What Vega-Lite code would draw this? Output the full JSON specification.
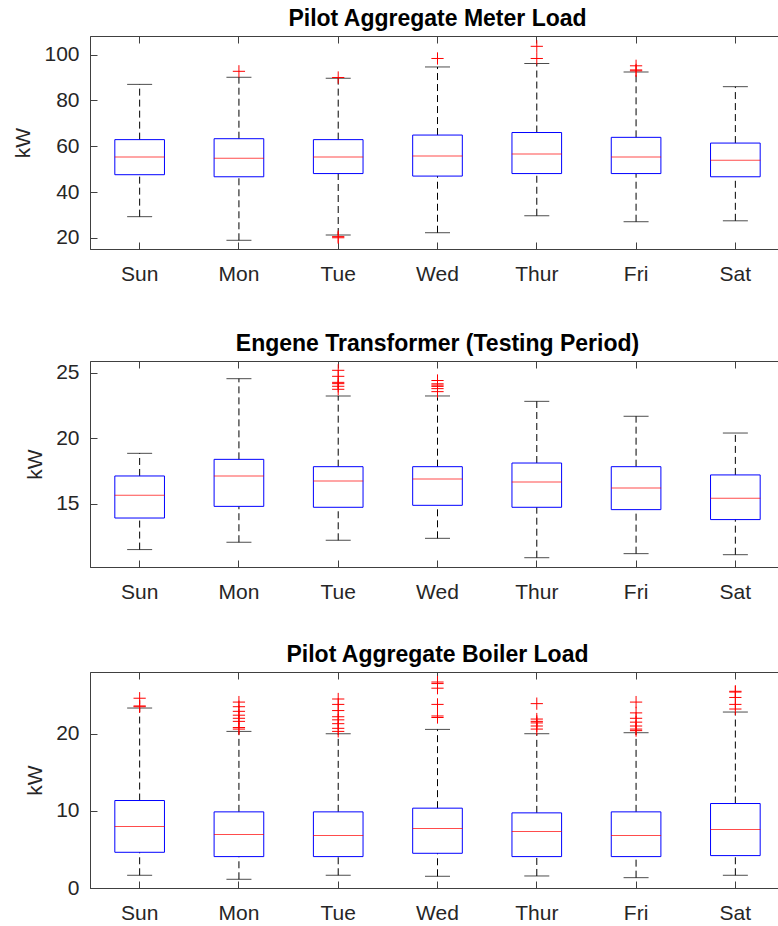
{
  "$schema": "https://vega.github.io/schema/vega-lite/v6.json",
  "background": "white",
  "padding": {"left": 12, "top": 7, "right": 0, "bottom": 0},
  "datasets": {
    "boxes": [
      {"panel": "meter", "day": "Sun", "lower": 29.3, "q1": 47.6, "median": 55.3, "q3": 62.9, "upper": 87.0},
      {"panel": "meter", "day": "Mon", "lower": 19.0, "q1": 46.7, "median": 54.8, "q3": 63.3, "upper": 90.1},
      {"panel": "meter", "day": "Tue", "lower": 21.3, "q1": 48.1, "median": 55.3, "q3": 62.9, "upper": 89.7},
      {"panel": "meter", "day": "Wed", "lower": 22.3, "q1": 47.0, "median": 55.8, "q3": 64.9, "upper": 94.6},
      {"panel": "meter", "day": "Thur", "lower": 29.7, "q1": 48.1, "median": 56.6, "q3": 66.0, "upper": 96.1},
      {"panel": "meter", "day": "Fri", "lower": 27.1, "q1": 48.1, "median": 55.3, "q3": 63.9, "upper": 92.4},
      {"panel": "meter", "day": "Sat", "lower": 27.5, "q1": 46.7, "median": 53.9, "q3": 61.4, "upper": 86.0},
      {"panel": "trans", "day": "Sun", "lower": 11.49, "q1": 13.90, "median": 15.63, "q3": 17.11, "upper": 18.84},
      {"panel": "trans", "day": "Mon", "lower": 12.05, "q1": 14.79, "median": 17.11, "q3": 18.38, "upper": 24.54},
      {"panel": "trans", "day": "Tue", "lower": 12.20, "q1": 14.72, "median": 16.73, "q3": 17.82, "upper": 23.22},
      {"panel": "trans", "day": "Wed", "lower": 12.35, "q1": 14.87, "median": 16.88, "q3": 17.82, "upper": 23.22},
      {"panel": "trans", "day": "Thur", "lower": 10.87, "q1": 14.72, "median": 16.65, "q3": 18.10, "upper": 22.81},
      {"panel": "trans", "day": "Fri", "lower": 11.18, "q1": 14.54, "median": 16.19, "q3": 17.82, "upper": 21.67},
      {"panel": "trans", "day": "Sat", "lower": 11.10, "q1": 13.78, "median": 15.41, "q3": 17.19, "upper": 20.39},
      {"panel": "boiler", "day": "Sun", "lower": 1.65, "q1": 4.63, "median": 7.97, "q3": 11.34, "upper": 23.33},
      {"panel": "boiler", "day": "Mon", "lower": 1.13, "q1": 4.07, "median": 6.93, "q3": 9.87, "upper": 20.3},
      {"panel": "boiler", "day": "Tue", "lower": 1.65, "q1": 4.07, "median": 6.80, "q3": 9.87, "upper": 20.0},
      {"panel": "boiler", "day": "Wed", "lower": 1.52, "q1": 4.50, "median": 7.71, "q3": 10.35, "upper": 20.56},
      {"panel": "boiler", "day": "Thur", "lower": 1.56, "q1": 4.07, "median": 7.32, "q3": 9.74, "upper": 20.0},
      {"panel": "boiler", "day": "Fri", "lower": 1.34, "q1": 4.07, "median": 6.80, "q3": 9.87, "upper": 20.13},
      {"panel": "boiler", "day": "Sat", "lower": 1.65, "q1": 4.20, "median": 7.58, "q3": 10.95, "upper": 22.81}
    ],
    "outliers": [
      {"panel": "meter", "day": "Mon", "value": 92.7},
      {"panel": "meter", "day": "Tue", "value": 90.0},
      {"panel": "meter", "day": "Tue", "value": 20.6},
      {"panel": "meter", "day": "Tue", "value": 20.1},
      {"panel": "meter", "day": "Wed", "value": 98.3},
      {"panel": "meter", "day": "Thur", "value": 98.3},
      {"panel": "meter", "day": "Thur", "value": 103.6},
      {"panel": "meter", "day": "Fri", "value": 92.9},
      {"panel": "meter", "day": "Fri", "value": 93.3},
      {"panel": "meter", "day": "Fri", "value": 95.1},
      {"panel": "trans", "day": "Tue", "value": 25.18},
      {"panel": "trans", "day": "Tue", "value": 24.72},
      {"panel": "trans", "day": "Tue", "value": 24.26},
      {"panel": "trans", "day": "Tue", "value": 24.16},
      {"panel": "trans", "day": "Tue", "value": 23.96},
      {"panel": "trans", "day": "Tue", "value": 23.73},
      {"panel": "trans", "day": "Wed", "value": 24.4},
      {"panel": "trans", "day": "Wed", "value": 24.15},
      {"panel": "trans", "day": "Wed", "value": 24.05},
      {"panel": "trans", "day": "Wed", "value": 23.95},
      {"panel": "trans", "day": "Wed", "value": 23.78},
      {"panel": "trans", "day": "Wed", "value": 23.55},
      {"panel": "boiler", "day": "Sun", "value": 23.5},
      {"panel": "boiler", "day": "Sun", "value": 23.6},
      {"panel": "boiler", "day": "Sun", "value": 24.6},
      {"panel": "boiler", "day": "Mon", "value": 20.6},
      {"panel": "boiler", "day": "Mon", "value": 20.8},
      {"panel": "boiler", "day": "Mon", "value": 21.6},
      {"panel": "boiler", "day": "Mon", "value": 22.0},
      {"panel": "boiler", "day": "Mon", "value": 22.4},
      {"panel": "boiler", "day": "Mon", "value": 22.9},
      {"panel": "boiler", "day": "Mon", "value": 23.5},
      {"panel": "boiler", "day": "Mon", "value": 24.1},
      {"panel": "boiler", "day": "Tue", "value": 20.3},
      {"panel": "boiler", "day": "Tue", "value": 20.7},
      {"panel": "boiler", "day": "Tue", "value": 21.3},
      {"panel": "boiler", "day": "Tue", "value": 21.8},
      {"panel": "boiler", "day": "Tue", "value": 22.2},
      {"panel": "boiler", "day": "Tue", "value": 23.0},
      {"panel": "boiler", "day": "Tue", "value": 23.8},
      {"panel": "boiler", "day": "Tue", "value": 24.5},
      {"panel": "boiler", "day": "Wed", "value": 22.1},
      {"panel": "boiler", "day": "Wed", "value": 22.3},
      {"panel": "boiler", "day": "Wed", "value": 23.8},
      {"panel": "boiler", "day": "Wed", "value": 25.9},
      {"panel": "boiler", "day": "Wed", "value": 26.5},
      {"panel": "boiler", "day": "Wed", "value": 26.7},
      {"panel": "boiler", "day": "Thur", "value": 20.6},
      {"panel": "boiler", "day": "Thur", "value": 21.0},
      {"panel": "boiler", "day": "Thur", "value": 21.4},
      {"panel": "boiler", "day": "Thur", "value": 21.6},
      {"panel": "boiler", "day": "Thur", "value": 21.9},
      {"panel": "boiler", "day": "Thur", "value": 23.9},
      {"panel": "boiler", "day": "Fri", "value": 20.4},
      {"panel": "boiler", "day": "Fri", "value": 20.6},
      {"panel": "boiler", "day": "Fri", "value": 21.0},
      {"panel": "boiler", "day": "Fri", "value": 21.5},
      {"panel": "boiler", "day": "Fri", "value": 22.0},
      {"panel": "boiler", "day": "Fri", "value": 22.7},
      {"panel": "boiler", "day": "Fri", "value": 24.1},
      {"panel": "boiler", "day": "Sat", "value": 23.2},
      {"panel": "boiler", "day": "Sat", "value": 23.8},
      {"panel": "boiler", "day": "Sat", "value": 24.7},
      {"panel": "boiler", "day": "Sat", "value": 25.4},
      {"panel": "boiler", "day": "Sat", "value": 25.5}
    ]
  },
  "config": {
    "font": "Liberation Sans",
    "view": {"stroke": "#404040", "strokeWidth": 1},
    "axis": {
      "labelFont": "Liberation Sans", "labelFontSize": 21, "labelColor": "#262626",
      "tickColor": "#404040", "domainColor": "#404040", "grid": false,
      "titleFont": "Liberation Sans", "titleFontSize": 21, "titleFontWeight": "normal", "titleColor": "#262626"
    },
    "title": {"font": "Liberation Sans", "fontSize": 23, "fontWeight": "bold", "color": "#000000", "anchor": "middle", "frame": "group", "offset": 5},
    "tick": {"thickness": 1}
  },
  "spacing": 40,
  "vconcat": [
    {
      "title": "Pilot Aggregate Meter Load",
      "width": 695, "height": 213,
      "data": {"name": "boxes"},
      "transform": [{"filter": "datum.panel === 'meter'"}],
      "resolve": {"axis": {"x": "independent"}},
      "encoding": {"x": {"field": "day", "type": "nominal", "sort": null, "scale": {"type": "band", "domain": ["Sun","Mon","Tue","Wed","Thur","Fri","Sat"], "paddingInner": 0, "paddingOuter": 0}, "axis": null}},
      "layer": [
        {"mark": {"type": "rule", "color": "black", "strokeDash": [7, 4], "strokeWidth": 1},
         "encoding": {
           "x": {"field": "day", "type": "nominal", "sort": null, "scale": {"type": "band", "domain": ["Sun","Mon","Tue","Wed","Thur","Fri","Sat"], "paddingInner": 0, "paddingOuter": 0}, "axis": {"orient": "bottom", "title": " ", "titleFontSize": 1, "titlePadding": 6, "labelAngle": 0, "tickSize": -7, "labelPadding": 21}},
           "y": {"field": "lower", "type": "quantitative", "title": "kW", "scale": {"domain": [15.2, 108.1], "nice": false, "zero": false}, "axis": {"values": [20, 40, 60, 80, 100], "tickSize": -7, "labelPadding": 18, "titlePadding": 10}},
           "y2": {"field": "q1"}}},
        {"mark": {"type": "rule", "color": "black", "strokeDash": [7, 4], "strokeWidth": 1},
         "encoding": {"y": {"field": "q3", "type": "quantitative", "title": "kW"}, "y2": {"field": "upper"}}},
        {"mark": {"type": "tick", "color": "black", "size": 25},
         "encoding": {"y": {"field": "lower", "type": "quantitative", "title": "kW"}}},
        {"mark": {"type": "tick", "color": "black", "size": 25},
         "encoding": {"y": {"field": "upper", "type": "quantitative", "title": "kW"}}},
        {"mark": {"type": "bar", "fill": "white", "fillOpacity": 0, "stroke": "#0000ff", "strokeWidth": 1, "width": {"band": 0.5}},
         "encoding": {
           "x": {"field": "day", "type": "nominal", "sort": null, "scale": {"type": "band", "domain": ["Sun","Mon","Tue","Wed","Thur","Fri","Sat"], "paddingInner": 0, "paddingOuter": 0}, "axis": {"orient": "top", "title": null, "labels": false, "domain": false, "tickSize": -7}},
           "y": {"field": "q1", "type": "quantitative", "title": "kW"}, "y2": {"field": "q3"}}},
        {"mark": {"type": "tick", "color": "#ff0000", "size": 50},
         "encoding": {"y": {"field": "median", "type": "quantitative", "title": "kW"}}},
        {"data": {"name": "outliers"},
         "transform": [{"filter": "datum.panel === 'meter'"}],
         "mark": {"type": "point", "shape": "M-1,0H1M0,-1V1", "filled": false, "stroke": "#ff0000", "strokeWidth": 1, "size": 150, "opacity": 1},
         "encoding": {"y": {"field": "value", "type": "quantitative", "title": "kW"}}}
      ]
    },
    {
      "title": "Engene Transformer (Testing Period)",
      "width": 695, "height": 206,
      "data": {"name": "boxes"},
      "transform": [{"filter": "datum.panel === 'trans'"}],
      "resolve": {"axis": {"x": "independent"}},
      "encoding": {"x": {"field": "day", "type": "nominal", "sort": null, "scale": {"type": "band", "domain": ["Sun","Mon","Tue","Wed","Thur","Fri","Sat"], "paddingInner": 0, "paddingOuter": 0}, "axis": null}},
      "layer": [
        {"mark": {"type": "rule", "color": "black", "strokeDash": [7, 4], "strokeWidth": 1},
         "encoding": {
           "x": {"field": "day", "type": "nominal", "sort": null, "scale": {"type": "band", "domain": ["Sun","Mon","Tue","Wed","Thur","Fri","Sat"], "paddingInner": 0, "paddingOuter": 0}, "axis": {"orient": "bottom", "title": null, "labelAngle": 0, "tickSize": -7, "labelPadding": 21}},
           "y": {"field": "lower", "type": "quantitative", "title": "kW", "scale": {"domain": [10.16, 25.89], "nice": false, "zero": false}, "axis": {"values": [15, 20, 25], "tickSize": -7, "labelPadding": 18, "titlePadding": 10}},
           "y2": {"field": "q1"}}},
        {"mark": {"type": "rule", "color": "black", "strokeDash": [7, 4], "strokeWidth": 1},
         "encoding": {"y": {"field": "q3", "type": "quantitative", "title": "kW"}, "y2": {"field": "upper"}}},
        {"mark": {"type": "tick", "color": "black", "size": 25},
         "encoding": {"y": {"field": "lower", "type": "quantitative", "title": "kW"}}},
        {"mark": {"type": "tick", "color": "black", "size": 25},
         "encoding": {"y": {"field": "upper", "type": "quantitative", "title": "kW"}}},
        {"mark": {"type": "bar", "fill": "white", "fillOpacity": 0, "stroke": "#0000ff", "strokeWidth": 1, "width": {"band": 0.5}},
         "encoding": {
           "x": {"field": "day", "type": "nominal", "sort": null, "scale": {"type": "band", "domain": ["Sun","Mon","Tue","Wed","Thur","Fri","Sat"], "paddingInner": 0, "paddingOuter": 0}, "axis": {"orient": "top", "title": null, "labels": false, "domain": false, "tickSize": -7}},
           "y": {"field": "q1", "type": "quantitative", "title": "kW"}, "y2": {"field": "q3"}}},
        {"mark": {"type": "tick", "color": "#ff0000", "size": 50},
         "encoding": {"y": {"field": "median", "type": "quantitative", "title": "kW"}}},
        {"data": {"name": "outliers"},
         "transform": [{"filter": "datum.panel === 'trans'"}],
         "mark": {"type": "point", "shape": "M-1,0H1M0,-1V1", "filled": false, "stroke": "#ff0000", "strokeWidth": 1, "size": 150, "opacity": 1},
         "encoding": {"y": {"field": "value", "type": "quantitative", "title": "kW"}}}
      ]
    },
    {
      "title": "Pilot Aggregate Boiler Load",
      "width": 695, "height": 216,
      "data": {"name": "boxes"},
      "transform": [{"filter": "datum.panel === 'boiler'"}],
      "resolve": {"axis": {"x": "independent"}},
      "encoding": {"x": {"field": "day", "type": "nominal", "sort": null, "scale": {"type": "band", "domain": ["Sun","Mon","Tue","Wed","Thur","Fri","Sat"], "paddingInner": 0, "paddingOuter": 0}, "axis": null}},
      "layer": [
        {"mark": {"type": "rule", "color": "black", "strokeDash": [7, 4], "strokeWidth": 1},
         "encoding": {
           "x": {"field": "day", "type": "nominal", "sort": null, "scale": {"type": "band", "domain": ["Sun","Mon","Tue","Wed","Thur","Fri","Sat"], "paddingInner": 0, "paddingOuter": 0}, "axis": {"orient": "bottom", "title": null, "labelAngle": 0, "tickSize": -7, "labelPadding": 21}},
           "y": {"field": "lower", "type": "quantitative", "title": "kW", "scale": {"domain": [0, 28], "nice": false, "zero": false}, "axis": {"values": [0, 10, 20], "tickSize": -7, "labelPadding": 18, "titlePadding": 10}},
           "y2": {"field": "q1"}}},
        {"mark": {"type": "rule", "color": "black", "strokeDash": [7, 4], "strokeWidth": 1},
         "encoding": {"y": {"field": "q3", "type": "quantitative", "title": "kW"}, "y2": {"field": "upper"}}},
        {"mark": {"type": "tick", "color": "black", "size": 25},
         "encoding": {"y": {"field": "lower", "type": "quantitative", "title": "kW"}}},
        {"mark": {"type": "tick", "color": "black", "size": 25},
         "encoding": {"y": {"field": "upper", "type": "quantitative", "title": "kW"}}},
        {"mark": {"type": "bar", "fill": "white", "fillOpacity": 0, "stroke": "#0000ff", "strokeWidth": 1, "width": {"band": 0.5}},
         "encoding": {
           "x": {"field": "day", "type": "nominal", "sort": null, "scale": {"type": "band", "domain": ["Sun","Mon","Tue","Wed","Thur","Fri","Sat"], "paddingInner": 0, "paddingOuter": 0}, "axis": {"orient": "top", "title": null, "labels": false, "domain": false, "tickSize": -7}},
           "y": {"field": "q1", "type": "quantitative", "title": "kW"}, "y2": {"field": "q3"}}},
        {"mark": {"type": "tick", "color": "#ff0000", "size": 50},
         "encoding": {"y": {"field": "median", "type": "quantitative", "title": "kW"}}},
        {"data": {"name": "outliers"},
         "transform": [{"filter": "datum.panel === 'boiler'"}],
         "mark": {"type": "point", "shape": "M-1,0H1M0,-1V1", "filled": false, "stroke": "#ff0000", "strokeWidth": 1, "size": 150, "opacity": 1},
         "encoding": {"y": {"field": "value", "type": "quantitative", "title": "kW"}}}
      ]
    }
  ]
}
